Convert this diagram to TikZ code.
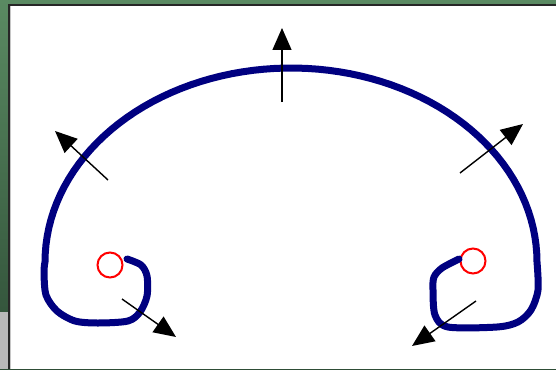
\documentclass[tikz,border=0pt]{standalone}
\usetikzlibrary{arrows.meta}
\definecolor{navyline}{HTML}{000080}
\definecolor{greentop}{HTML}{5A8A62}
\definecolor{greenlow}{HTML}{2E4D36}
\begin{document}
\begin{tikzpicture}[x=1pt, y=-1pt,
  hook/.style={draw=navyline, line width=7pt, line join=round, line cap=round},
  vec/.style={draw=black, line width=1.4pt, -{Triangle[length=22pt, width=19pt]}},
  port/.style={draw=red, line width=2pt, circle, minimum size=25pt, inner sep=0pt}]
\useasboundingbox (0,0) rectangle (556,369);
% window frame
\shade[top color=greentop, bottom color=greenlow] (0,0) rectangle (556,369);
\fill[gray!55] (0,312) rectangle (9,369);
\fill[white] (9,5) rectangle (556,369);
\draw[black!85, line width=1.5pt] (9,369) -- (9,5) -- (556,5);
\draw[gray!45, line width=0.8pt] (10.6,369) -- (10.6,6);
% end circles
\node[port] (portL) at (110,265) {};
\node[port] (portR) at (473,261) {};
% the curve
\draw[hook] plot[smooth, tension=0.5] coordinates {(127,259) (141,265) (147,276) (147,296) (140,312) (128,321) (98,323) (75,321) (57,311) (46,295) (44,272) (45,262)}
  -- plot[domain=180:360, samples=72] ({291+246*cos(\x)},{262+194*sin(\x)})
  -- plot[smooth, tension=0.5] coordinates {(537,262) (538,290) (531,310) (518,322) (497,327) (448,327) (435,315) (433,290) (434,277) (442,268) (459,259)};
% normals
\coordinate (topT) at (282,102);
\coordinate (topH) at (282,28);
\coordinate (ulT) at (108,180);
\coordinate (ulH) at (55,131);
\coordinate (urT) at (460,173);
\coordinate (urH) at (523,124);
\coordinate (blT) at (122,299);
\coordinate (blH) at (176,337);
\coordinate (brT) at (476,301);
\coordinate (brH) at (412,346);
\draw[vec] (topT) -- (topH);
\draw[vec] (ulT) -- (ulH);
\draw[vec] (urT) -- (urH);
\draw[vec] (blT) -- (blH);
\draw[vec] (brT) -- (brH);
\end{tikzpicture}
\end{document}
